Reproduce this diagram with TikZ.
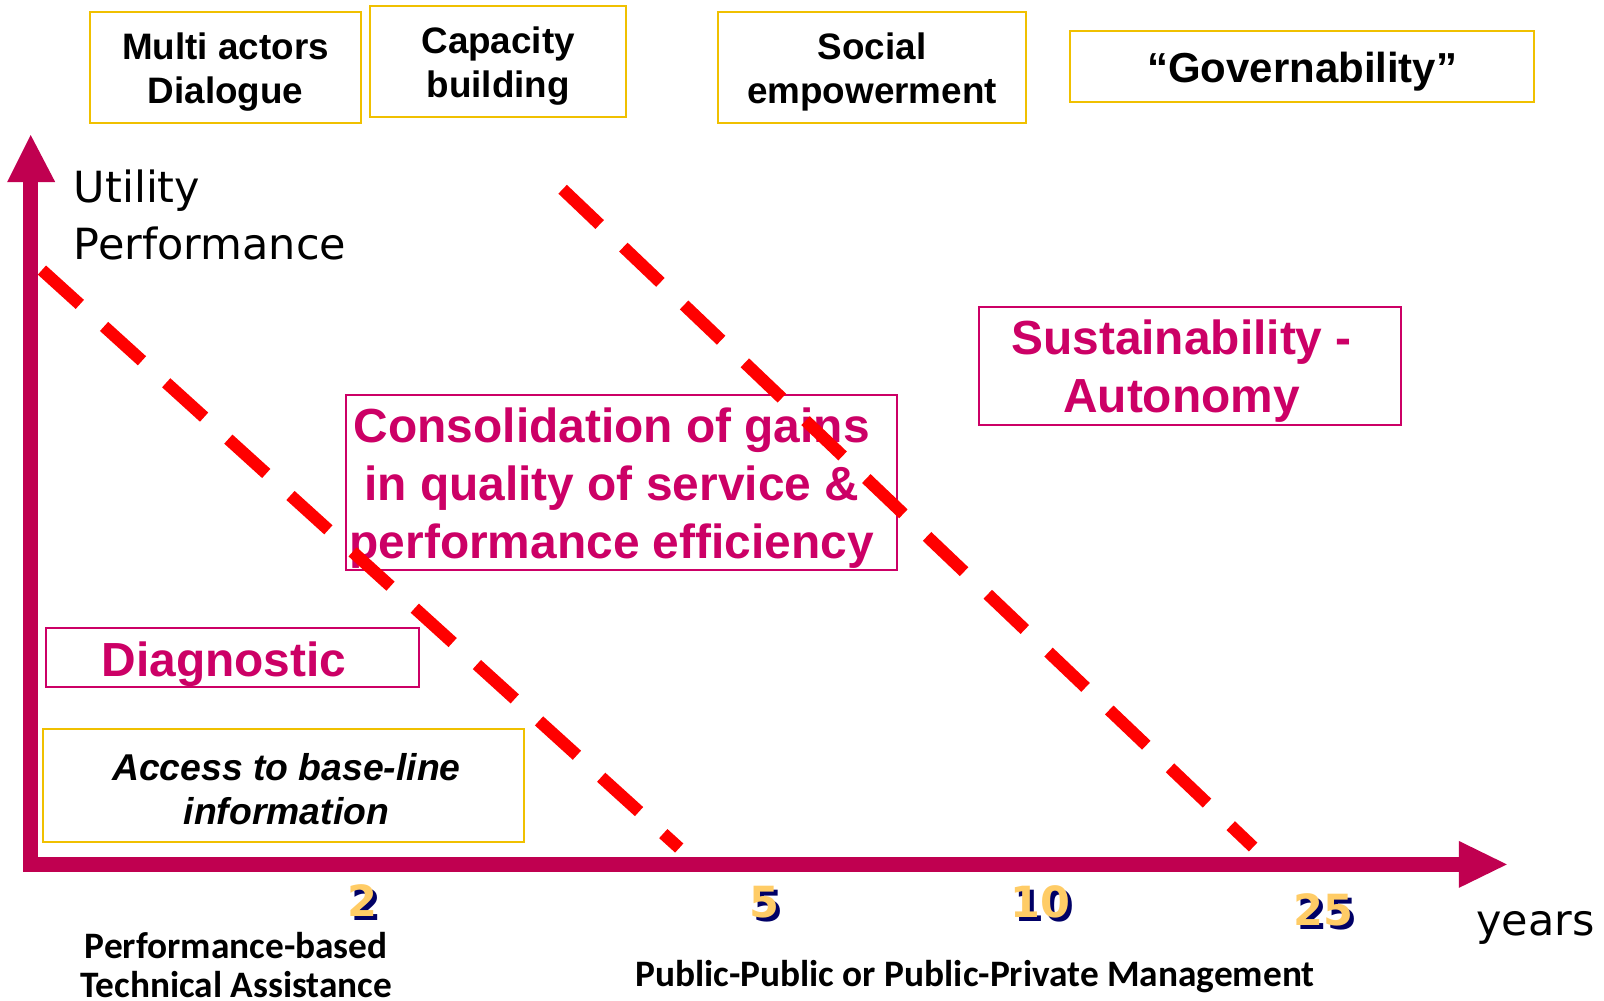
\documentclass[tikz,border=0pt]{standalone}
\usepackage{fontspec}
\setmainfont{Liberation Sans}
\newfontfamily\arialf{Liberation Sans}
\newfontfamily\tahomaf{DejaVu Sans}
\newfontfamily\calibf{Carlito}
\definecolor{crim}{RGB}{192,0,80}
\definecolor{crimtext}{RGB}{204,0,102}
\definecolor{ybord}{RGB}{240,192,0}
\definecolor{ynum}{RGB}{255,204,102}
\definecolor{navyc}{RGB}{0,0,102}
\definecolor{dashred}{RGB}{255,0,0}
\newcommand{\shadnum}[1]{\makebox[0pt][l]{\hspace*{4pt}\raisebox{-4pt}{\color{navyc}#1}}{\color{ynum}#1}}
\begin{document}
\begin{tikzpicture}[x=1pt,y=-1pt,
  ybox/.style={draw=ybord,line width=2pt,inner sep=0pt,align=center,font=\arialf\bfseries\fontsize{36}{43}\selectfont},
  cbox/.style={draw=crimtext,line width=2pt,inner sep=0pt},
  ctext/.style={inner sep=0pt,align=center,text=crimtext,font=\arialf\bfseries\fontsize{46.8}{57}\selectfont},
  numtext/.style={inner sep=0pt,font=\tahomaf\bfseries\fontsize{42}{42}\selectfont},
  bottomtext/.style={inner sep=0pt,align=center,font=\calibf\bfseries\fontsize{36.5}{38}\selectfont},
  redash/.style={draw=dashred,line width=12pt,dash pattern=on 50pt off 32pt}
]
\useasboundingbox[fill=white] (0,0) rectangle (1568,978);

% top boxes
\node[draw=ybord,line width=2pt,minimum width=265pt,minimum height=108pt] (multibox) at (220.5,66) {};
\node[ybox,draw=none] (multi) at (220.5,70) {Multi actors\\Dialogue};
\node[draw=ybord,line width=2pt,minimum width=250pt,minimum height=108pt] (capabox) at (487,60) {};
\node[ybox,draw=none] (capa) at (487,65) {Capacity\\building};
\node[draw=ybord,line width=2pt,minimum width=301pt,minimum height=108pt] (socialbox) at (852.5,66) {};
\node[ybox,draw=none] (social) at (852.5,70) {Social\\empowerment};
\node[draw=ybord,line width=2pt,minimum width=454pt,minimum height=70pt] (govbox) at (1273,65) {};
\node[ybox,draw=none,font=\arialf\bfseries\fontsize{41}{48}\selectfont] (gov) at (1273,70) {“Governability”};

% axis label
\node[inner sep=0pt,anchor=west,align=left,font=\tahomaf\fontsize{42}{56}\selectfont] (util) at (72,210) {Utility\\Performance};

% crimson boxes
\node[cbox,minimum width=413pt,minimum height=115pt] (sustbox) at (1163.5,357.5) {};
\node[ctext] (sust) at (1155,363) {Sustainability -\\Autonomy};
\node[cbox,minimum width=539pt,minimum height=171pt] (consbox) at (607.5,471.5) {};
\node[ctext] (cons) at (598,477) {Consolidation of gains\\in quality of service \&\\performance efficiency};
\node[cbox,minimum width=365pt,minimum height=58pt] (diagbox) at (227.5,643) {};
\node[ctext] (diag) at (219,649) {Diagnostic};

% access box
\node[draw=ybord,line width=2pt,minimum width=470pt,minimum height=110pt] (accbox) at (277,768) {};
\node[inner sep=0pt,align=center,font=\arialf\bfseries\itshape\fontsize{36.5}{43}\selectfont] (acc) at (280,771) {Access to base-line\\information};

% axes
\coordinate (orig) at (30,845);
\coordinate (ytip) at (30,132);
\coordinate (xtip) at (1473,845);
\fill[crim] (22.5,852) rectangle (37.5,176);
\fill[crim] (7,178) -- (54,178) -- (ytip) -- cycle;
\fill[crim] (22.5,837.5) rectangle (1428,852.5);
\fill[crim] (1426,822) -- (1426,868) -- (xtip) -- cycle;

% dashed lines
\coordinate (d1a) at (41,264);
\coordinate (d1b) at (664,829);
\coordinate (d2a) at (550,185);
\coordinate (d2b) at (1225,828);
\draw[redash] (d1a) -- (d1b);
\draw[redash] (d2a) -- (d2b);

% numbers
\node[numtext] (n2) at (354,882) {\shadnum{2}};
\node[numtext] (n5) at (747,884) {\shadnum{5}};
\node[numtext] (n10) at (1017,884) {\shadnum{10}};
\node[numtext] (n25) at (1294,891) {\shadnum{25}};

\node[inner sep=0pt,font=\tahomaf\fontsize{42}{42}\selectfont] (years) at (1501,907) {years};

\node[bottomtext] (pbta) at (231,943) {Performance-based\\Technical Assistance};
\node[bottomtext] (ppm) at (953,955) {Public-Public or Public-Private Management};
\end{tikzpicture}
\end{document}
